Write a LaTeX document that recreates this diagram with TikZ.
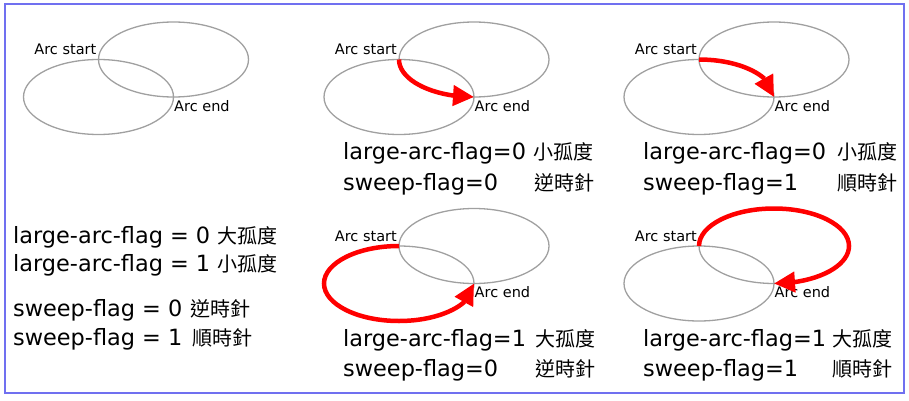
\documentclass[tikz,border=0pt]{standalone}
\usepackage{fontspec}
\setmainfont{DejaVu Sans}
\newfontfamily\cjk{Noto Sans CJK TC}
\usetikzlibrary{arrows.meta,bending}
\definecolor{frameblue}{RGB}{112,112,240}
\definecolor{ellgray}{RGB}{160,160,160}
\newcommand\arcpanel[3]{%
  \begin{scope}[shift={(#2,#3)}]
    \coordinate (#1s) at (0,0);
    \coordinate (#1e) at (75,-37.5);
    \draw[ell] (75,0) ellipse [x radius=75, y radius=37.5];
    \draw[ell] (0,-37.5) ellipse [x radius=75, y radius=37.5];
    \node[lbl,anchor=base east] (#1start) at (-2,4.5) {Arc start};
    \node[lbl,anchor=base west] (#1end) at (75.5,-51.5) {Arc end};
  \end{scope}}
\begin{document}
\begin{tikzpicture}[x=1pt,y=1pt,
  ell/.style={draw=ellgray,line width=1.3pt},
  redarc/.style={draw=red,line width=4.5pt,-{Triangle[length=21pt,width=20pt,flex]}},
  lbl/.style={font=\fontsize{14.5}{16}\selectfont,inner sep=0pt},
  flag/.style={font=\fontsize{22.4}{26}\selectfont,inner sep=0pt,anchor=base west},
  zh/.style={font=\cjk\fontsize{20}{22}\selectfont,inner sep=0pt,anchor=base west}]
\useasboundingbox (0,0) rectangle (909,400);
\draw[frameblue,line width=2pt] (5,7) rectangle (904,395.5);

\arcpanel{a}{98.5}{340.5}
\arcpanel{b}{399}{340.5}
\arcpanel{c}{699}{340.5}
\arcpanel{d}{399}{154}
\arcpanel{f}{699}{154}

\draw[redarc] (bs) arc[start angle=180,end angle=270,x radius=75,y radius=37.5];
\draw[redarc] (cs) arc[start angle=90,end angle=0,x radius=75,y radius=37.5];
\draw[redarc] (ds) arc[start angle=90,end angle=360,x radius=75,y radius=37.5];
\draw[redarc] (fs) arc[start angle=180,end angle=-90,x radius=75,y radius=37.5];

% left legend
\node[flag] (l1) at (13,157) {large-arc-flag = 0};
\node[zh] (z1) at (217,157) {大孤度};
\node[flag] (l2) at (13,128.3) {large-arc-flag = 1};
\node[zh] (z2) at (217,128.3) {小孤度};
\node[flag] (l3) at (13,83.3) {sweep-flag = 0};
\node[zh] (z3) at (190,83.3) {逆時針};
\node[flag] (l4) at (13,55) {sweep-flag = 1};
\node[zh] (z4) at (192,55) {順時針};

% panel captions
\node[flag] (b1) at (343,240.7) {large-arc-flag=0};
\node[zh] (bz1) at (533,240.7) {小孤度};
\node[flag] (b2) at (343,209.3) {sweep-flag=0};
\node[zh] (bz2) at (534,209.3) {逆時針};

\node[flag] (c1) at (643,240.7) {large-arc-flag=0};
\node[zh] (cz1) at (837,240.7) {小孤度};
\node[flag] (c2) at (643,209.3) {sweep-flag=1};
\node[zh] (cz2) at (837,209.3) {順時針};

\node[flag] (d1) at (343,53.3) {large-arc-flag=1};
\node[zh] (dz1) at (535,53.3) {大孤度};
\node[flag] (d2) at (343,23.3) {sweep-flag=0};
\node[zh] (dz2) at (535,23.3) {逆時針};

\node[flag] (f1) at (643,53.3) {large-arc-flag=1};
\node[zh] (fz1) at (832,53.3) {大孤度};
\node[flag] (f2) at (643,23.3) {sweep-flag=1};
\node[zh] (fz2) at (832,23.3) {順時針};
\end{tikzpicture}
\end{document}
